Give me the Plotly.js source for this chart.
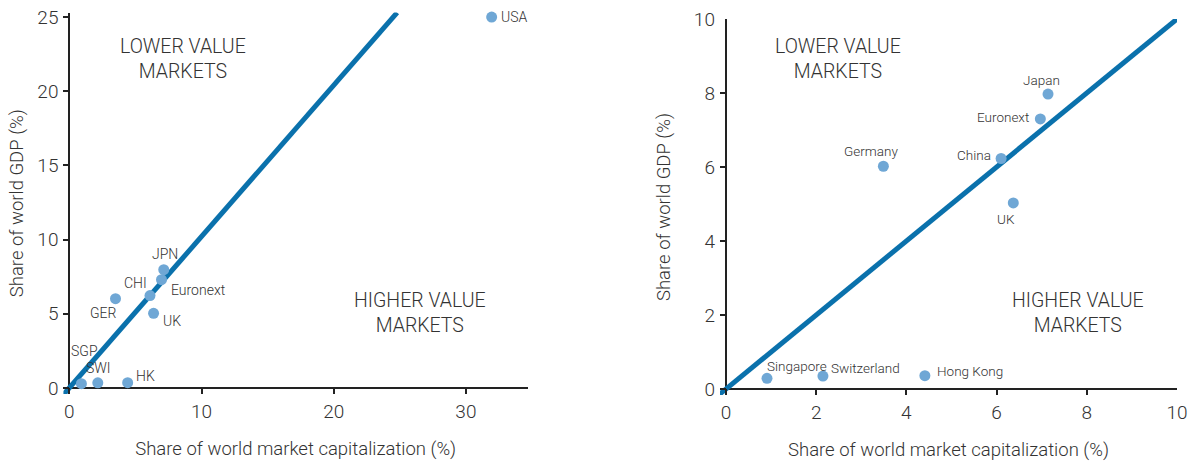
<!DOCTYPE html>
<html>
<head>
<meta charset="utf-8">
<script src="https://cdn.plot.ly/plotly-3.0.1.min.js"></script>
<style>html,body{margin:0;padding:0;background:#fff;}#chart{width:1190px;height:462px;}</style>
</head>
<body>
<div id="chart"></div>
<script>
// ---- Data ----
const labelsLeft = ['SGP', 'SWI', 'HK', 'GER', 'CHI', 'UK', 'Euronext', 'JPN', 'USA'];
const labelsRight = ['Singapore', 'Switzerland', 'Hong Kong', 'Germany', 'China', 'UK', 'Euronext', 'Japan'];
const marketCapShare = [0.91, 2.15, 4.41, 3.49, 6.10, 6.37, 6.97, 7.14, 31.95];
const gdpShare = [0.29, 0.35, 0.36, 6.02, 6.23, 5.03, 7.30, 7.97, 25.0];
const parityLeftX = [-0.5, 24.8];
const parityLeftY = [-0.5, 25.3];
const parityRightX = [-0.2, 10];
const parityRightY = [-0.2, 10];
const zoneLabels = ['LOWER VALUE<br>MARKETS', 'HIGHER VALUE<br>MARKETS'];
const zoneLeftX = [8.56, 26.5];
const zoneLeftY = [22.2, 5.05];
const zoneRightX = [2.48, 7.8];
const zoneRightY = [8.92, 2.05];
const xTitle = 'Share of world market capitalization (%)';
const yTitle = 'Share of world GDP (%)';

// ---- Label offsets (px, style) ----
const offLeftX = [3, 1, 18, -12, -14, 18, 37, 1, 23];
const offLeftY = [33, 15, 7, -14, 13, -8, -10, 16, 0];
const offRightX = [30, 43, 45, -12, -27, -7, -37, -7];
const offRightY = [12, 8, 5, 15, 3, -16, 2, 14];

const FONT = 'Roboto, Liberation Sans, Arial, sans-serif';
const W = 300;
const TXT = '#333333';
const AX = '#222222';
const LINE = '#0a71ac';
const DOT = '#6fa7d5';

const nR = labelsRight.length;
const traces = [
  {x: parityLeftX, y: parityLeftY, xaxis: 'x', yaxis: 'y', mode: 'lines',
   line: {color: LINE, width: 5}, hoverinfo: 'skip', showlegend: false},
  {x: marketCapShare, y: gdpShare, xaxis: 'x', yaxis: 'y', mode: 'markers',
   marker: {color: DOT, size: 11}, cliponaxis: false, showlegend: false},
  {x: parityRightX, y: parityRightY, xaxis: 'x2', yaxis: 'y2', mode: 'lines',
   line: {color: LINE, width: 5}, hoverinfo: 'skip', showlegend: false},
  {x: marketCapShare.slice(0, nR), y: gdpShare.slice(0, nR), xaxis: 'x2', yaxis: 'y2', mode: 'markers',
   marker: {color: DOT, size: 11}, cliponaxis: false, showlegend: false}
];

function f(size) { return {family: FONT, size: size, color: TXT, weight: W}; }

const annotations = [];
labelsLeft.forEach((t, i) => annotations.push({
  xref: 'x', yref: 'y', x: marketCapShare[i], y: gdpShare[i], text: t, showarrow: false,
  xshift: offLeftX[i], yshift: offLeftY[i], font: f(14)
}));
labelsRight.forEach((t, i) => annotations.push({
  xref: 'x2', yref: 'y2', x: marketCapShare[i], y: gdpShare[i], text: t, showarrow: false,
  xshift: offRightX[i], yshift: offRightY[i], font: f(13.5)
}));
zoneLabels.forEach((t, i) => {
  annotations.push({xref: 'x', yref: 'y', x: zoneLeftX[i], y: zoneLeftY[i], text: t, showarrow: false, font: f(19.5)});
  annotations.push({xref: 'x2', yref: 'y2', x: zoneRightX[i], y: zoneRightY[i], text: t, showarrow: false, font: f(19.5)});
});

function axis(extra) {
  return Object.assign({
    showgrid: false, showline: false, zeroline: true, zerolinecolor: AX, zerolinewidth: 2,
    ticks: 'inside', ticklen: 6, tickwidth: 2, tickcolor: AX, automargin: false,
    tickfont: f(19), ticklabelstandoff: 4,
    fixedrange: true
  }, extra);
}

const layout = {
  width: 1190, height: 462,
  margin: {l: 0, r: 0, t: 0, b: 0},
  paper_bgcolor: '#ffffff', plot_bgcolor: 'rgba(0,0,0,0)',
  showlegend: false,
  xaxis: axis({domain: [0.0533, 0.4437], range: [-0.45, 34.7], tickvals: [0, 10, 20, 30],
    title: {text: xTitle, standoff: 20, font: f(18.5)}, anchor: 'y'}),
  yaxis: axis({domain: [0.1474, 0.9728], range: [-0.4, 25.3], tickvals: [0, 5, 10, 15, 20, 25],
    title: {text: yTitle, standoff: 8, font: f(18.5)}, anchor: 'x'}),
  xaxis2: axis({domain: [0.6050, 0.9891], range: [-0.133, 10], tickvals: [0, 2, 4, 6, 8, 10],
    title: {text: xTitle, standoff: 20, font: f(18.5)}, anchor: 'y2'}),
  yaxis2: axis({domain: [0.1450, 0.9589], range: [-0.162, 10], tickvals: [0, 2, 4, 6, 8, 10],
    title: {text: yTitle, standoff: 18, font: f(18.5)}, anchor: 'x2'}),
  annotations: annotations
};

Plotly.newPlot('chart', traces, layout, {staticPlot: true, displayModeBar: false});
</script>
</body>
</html>
